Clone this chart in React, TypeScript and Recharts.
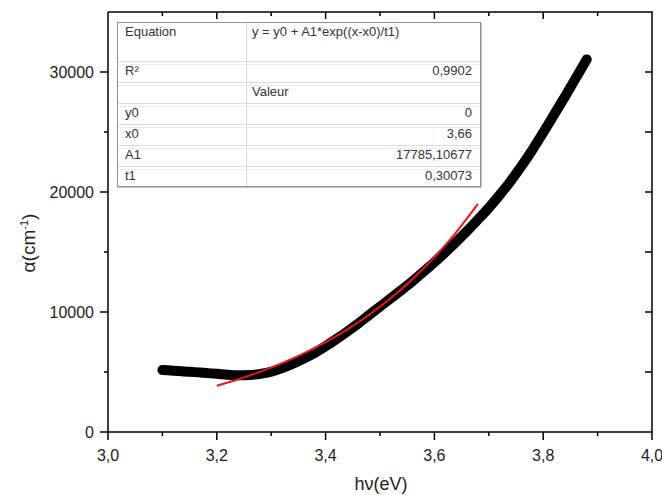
import { LineChart, Line, XAxis, YAxis } from "recharts";

// photon energy (eV) and absorption coefficient (cm-1)
const hv = [
  3.1, 3.12, 3.14, 3.16, 3.18, 3.2, 3.22, 3.24, 3.26, 3.28, 3.3, 3.32, 3.34, 3.36, 3.38, 3.4, 3.42, 3.44, 3.46, 3.48,
  3.5, 3.52, 3.54, 3.56, 3.58, 3.6, 3.62, 3.64, 3.66, 3.68, 3.7, 3.72, 3.74, 3.76, 3.78, 3.8, 3.82, 3.84, 3.86, 3.88,
];
const alpha = [
  5170, 5110, 5050, 4990, 4920, 4850, 4780, 4720, 4740, 4840, 5020, 5320, 5700, 6120, 6600, 7150, 7750, 8380, 9050, 9750,
  10450, 11150, 11850, 12580, 13350, 14150, 14980, 15850, 16750, 17700, 18680, 19750, 20900, 22150, 23500, 24950, 26450,
  27950, 29500, 31050,
];

// exponential fit (red)
const fitHv = [3.2, 3.24, 3.28, 3.32, 3.36, 3.4, 3.44, 3.48, 3.52, 3.56, 3.6, 3.64, 3.68];
const fitAlpha = [3853, 4401, 5027, 5742, 6559, 7492, 8557, 9775, 11166, 12754, 14568, 16641, 19008];

const xTicks = [3.0, 3.1, 3.2, 3.3, 3.4, 3.5, 3.6, 3.7, 3.8, 3.9, 4.0];
const yTicks = [0, 5000, 10000, 15000, 20000, 25000, 30000, 35000];
const X_MIN = 3;
const X_MAX = 4;
const Y_MAX = 35000;

const tableRows = [
  ["R²", "0,9902"],
  ["", "Valeur"],
  ["y0", "0"],
  ["x0", "3,66"],
  ["A1", "17785,10677"],
  ["t1", "0,30073"],
];

const measured = hv.map((x, i) => ({ x, y: alpha[i] }));
const fitted = fitHv.map((x, i) => ({ x, y: fitAlpha[i] }));

// plot box inside the 662x495 picture
const PLOT = { left: 108, right: 652, top: 12, bottom: 432 };

const FONT = "Arial, 'Liberation Sans', sans-serif";
const AX = "#000";

const isMajorX = (v: number) => Math.round(v * 10) % 2 === 0;
const isMajorY = (v: number) => v % 10000 === 0;

function BottomTick(p: any) {
  const v = p.payload.value;
  const major = isMajorX(v);
  return (
    <g>
      <line x1={p.x} x2={p.x} y1={p.y} y2={p.y + (major ? 8 : 4)} stroke={AX} strokeWidth={1.5} />
      {major && (
        <text x={p.x} y={p.y + 29} textAnchor="middle" fontSize={16} fill="#222" fontFamily={FONT}>
          {v.toFixed(1).replace(".", ",")}
        </text>
      )}
    </g>
  );
}

function LeftTick(p: any) {
  const v = p.payload.value;
  const major = isMajorY(v);
  if (v === Y_MAX) return <g />;
  return (
    <g>
      <line x1={p.x - (major ? 8 : 4)} x2={p.x} y1={p.y} y2={p.y} stroke={AX} strokeWidth={1.5} />
      {major && (
        <text x={p.x - 14} y={p.y + 5.5} textAnchor="end" fontSize={16} fill="#222" fontFamily={FONT}>
          {v}
        </text>
      )}
    </g>
  );
}

function XTitle() {
  return (
    <text x={381} y={490} textAnchor="middle" fontSize={18} fill="#222" fontFamily={FONT}>
      hν(eV)
    </text>
  );
}

function YTitle() {
  return (
    <text transform="translate(35, 243) rotate(-90)" x={0} y={0} textAnchor="middle" fontSize={19} fill="#222" fontFamily={FONT}>
      α(cm
      <tspan dy={-7} fontSize={11}>
        -1
      </tspan>
      <tspan dy={7}>)</tspan>
    </text>
  );
}

// top and right frame with inward ticks (Origin-style box)
function Frame() {
  const w = PLOT.right - PLOT.left;
  const h = PLOT.bottom - PLOT.top;
  return (
    <svg width={662} height={495} style={{ position: "absolute", left: 0, top: 0, pointerEvents: "none" }}>
      <line x1={PLOT.left} x2={PLOT.right + 0.75} y1={PLOT.top} y2={PLOT.top} stroke={AX} strokeWidth={1.5} />
      <line x1={PLOT.right} x2={PLOT.right} y1={PLOT.top} y2={PLOT.bottom} stroke={AX} strokeWidth={1.5} />
      {xTicks
        .filter((v) => v > X_MIN && v < X_MAX)
        .map((v) => {
          const x = PLOT.left + ((v - X_MIN) / (X_MAX - X_MIN)) * w;
          return <line key={v} x1={x} x2={x} y1={PLOT.top} y2={PLOT.top + (isMajorX(v) ? 7 : 4)} stroke={AX} strokeWidth={1.5} />;
        })}
      {yTicks
        .filter((v) => v > 0 && v < Y_MAX)
        .map((v) => {
          const y = PLOT.bottom - (v / Y_MAX) * h;
          return <line key={v} x1={PLOT.right - 7} x2={PLOT.right} y1={y} y2={y} stroke={AX} strokeWidth={1.5} />;
        })}
    </svg>
  );
}

function FitTable() {
  const cell = { position: "absolute" as const, fontSize: 13, color: "#333", fontFamily: FONT, lineHeight: "15px" };
  return (
    <div
      style={{
        position: "absolute",
        left: 117,
        top: 22,
        width: 364,
        height: 165,
        border: "1px solid #8f8f8f",
        boxShadow: "1px 1px 0 #c4c4c4",
        background: "#fff",
        boxSizing: "border-box",
      }}
    >
      <div style={{ position: "absolute", left: 128, top: 0, bottom: 0, width: 1, background: "#d6d6d6" }} />
      <div style={{ ...cell, left: 7, top: 1 }}>Equation</div>
      <div style={{ ...cell, left: 134, top: 1 }}>y = y0 + A1*exp((x-x0)/t1)</div>
      {tableRows.map((r, i) => {
        const top = 38 + i * 21;
        return (
          <div key={i}>
            <div style={{ position: "absolute", left: 0, right: 0, top, height: 2, borderTop: "1px solid #dcdcdc", borderBottom: "1px solid #ececec" }} />
            <div style={{ ...cell, left: 7, top: top + 2 }}>{r[0]}</div>
            {r[1] === "Valeur" ? (
              <div style={{ ...cell, left: 134, top: top + 2 }}>{r[1]}</div>
            ) : (
              <div style={{ ...cell, right: 8, top: top + 2 }}>{r[1]}</div>
            )}
          </div>
        );
      })}
    </div>
  );
}

export default function App() {
  return (
    <div style={{ position: "absolute", left: 0, top: 0, width: 662, height: 495, background: "#fff" }}>
      <LineChart width={662} height={495} margin={{ top: PLOT.top, right: 662 - PLOT.right, bottom: 23, left: 0 }}>
        <XAxis
          dataKey="x"
          type="number"
          domain={[X_MIN, X_MAX]}
          ticks={xTicks}
          interval={0}
          height={40}
          tickSize={0}
          tickMargin={0}
          tickLine={false}
          axisLine={{ stroke: AX, strokeWidth: 1.5 }}
          tick={BottomTick}
          label={{ content: XTitle }}
        />
        <YAxis
          type="number"
          domain={[0, Y_MAX]}
          ticks={yTicks}
          interval={0}
          width={PLOT.left}
          tickSize={0}
          tickMargin={0}
          tickLine={false}
          axisLine={{ stroke: AX, strokeWidth: 1.5 }}
          tick={LeftTick}
          label={{ content: YTitle }}
        />
        <Line
          data={measured}
          dataKey="y"
          type="monotone"
          stroke="#000"
          strokeWidth={10}
          strokeLinecap="round"
          strokeLinejoin="round"
          dot={false}
          activeDot={false}
          isAnimationActive={false}
        />
        <Line
          data={fitted}
          dataKey="y"
          type="monotone"
          stroke="#f01414"
          strokeWidth={2}
          dot={false}
          activeDot={false}
          isAnimationActive={false}
        />
      </LineChart>
      <Frame />
      <FitTable />
    </div>
  );
}
